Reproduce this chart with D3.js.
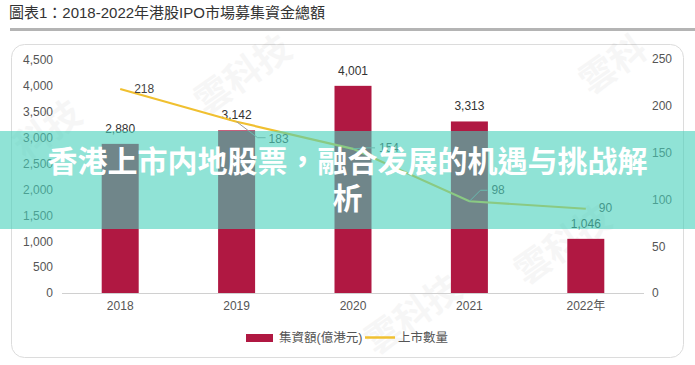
<!DOCTYPE html>
<html>
<head>
<meta charset="utf-8">
<script src="https://cdn.jsdelivr.net/npm/d3@7"></script>
<style>
  body { margin: 0; background: #fff; }
  svg text { font-family: "Liberation Sans", "Noto Sans CJK TC", sans-serif; }
</style>
</head>
<body>
<svg id="chart" width="695" height="365"></svg>
<script>
/* chart values */
const years = ["2018", "2019", "2020", "2021", "2022年"];
const amounts = [2880, 3142, 4001, 3313, 1046];   // 集資額(億港元)
const counts = [218, 183, 154, 98, 90];            // 上市數量
const leftTicks = [0, 500, 1000, 1500, 2000, 2500, 3000, 3500, 4000, 4500];
const rightTicks = [0, 50, 100, 150, 200, 250];

const barColor = "#b01842";
const lineColor = "#f0c030";

let svg = d3.select("#chart");

// title + rule
svg.append("text")
    .attr("x", 9).attr("y", 18)
    .attr("font-size", 15).attr("fill", "#333")
    .text("圖表1：2018-2022年港股IPO市場募集資金總額");
svg.append("rect")
    .attr("x", 10).attr("y", 28).attr("width", 685).attr("height", 3)
    .attr("fill", "#b4b4b4");

// card
svg.append("rect")
    .attr("x", 11.5).attr("y", 44.5).attr("width", 672).attr("height", 313)
    .attr("rx", 13)
    .attr("fill", "none").attr("stroke", "#dcdcdc");

// faint watermarks
const marks = [[250, 85, "雲科技"], [55, 140, "科技"], [620, 75, "雲科"], [570, 255, "雲科技"], [420, 325, "雲科技"]];
marks.forEach(m => {
  svg.append("text")
      .attr("transform", `translate(${m[0]},${m[1]}) rotate(-35)`)
      .attr("text-anchor", "middle")
      .attr("font-size", 36).attr("font-weight", "bold")
      .attr("fill", "#000").attr("opacity", 0.03)
      .text(m[2]);
});

// scales
let x = d3.scaleBand().domain(years).range([62, 644]);
let yL = d3.scaleLinear().domain([0, 4500]).range([293, 60]);
let yR = d3.scaleLinear().domain([0, 250]).range([293, 59]);
const barW = 37;
const cx = d => x(d) + x.bandwidth() / 2;

// baseline
svg.append("line")
    .attr("x1", 62).attr("x2", 644).attr("y1", 293.5).attr("y2", 293.5)
    .attr("stroke", "#d0d0d0");

// left axis
let gl = svg.append("g")
    .attr("transform", "translate(53,0)")
    .call(d3.axisLeft(yL).tickValues(leftTicks).tickSize(0).tickPadding(0)
            .tickFormat(d3.format(",")));
gl.select(".domain").remove();
gl.selectAll("text").attr("font-size", 12).attr("fill", "#555")
    .attr("font-family", "Liberation Sans, sans-serif");

// right axis
let gr = svg.append("g")
    .attr("transform", "translate(652,0)")
    .call(d3.axisRight(yR).tickValues(rightTicks).tickSize(0).tickPadding(0));
gr.select(".domain").remove();
gr.selectAll("text").attr("font-size", 12).attr("fill", "#555")
    .attr("font-family", "Liberation Sans, sans-serif");

// x axis labels
let gx = svg.append("g")
    .attr("transform", "translate(0,301)")
    .call(d3.axisBottom(x).tickSize(0).tickPadding(0));
gx.select(".domain").remove();
gx.selectAll("text").attr("font-size", 12).attr("fill", "#555");

// bars
svg.append("g").selectAll("rect")
    .data(years)
    .join("rect")
      .attr("x", d => cx(d) - barW / 2)
      .attr("y", (d, i) => yL(amounts[i]))
      .attr("width", barW)
      .attr("height", (d, i) => yL(0) - yL(amounts[i]))
      .attr("fill", barColor);

svg.append("g").selectAll("text")
    .data(years)
    .join("text")
      .attr("x", d => cx(d))
      .attr("y", (d, i) => yL(amounts[i]) - 11)
      .attr("text-anchor", "middle")
      .attr("font-size", 12).attr("fill", "#333")
      .text((d, i) => d3.format(",")(amounts[i]));

// line
let line = d3.line()
    .x((d, i) => cx(years[i]))
    .y(d => yR(d));
svg.append("path")
    .attr("d", line(counts))
    .attr("fill", "none")
    .attr("stroke", lineColor)
    .attr("stroke-width", 2.2);

// line labels with leader lines (offsets from the point)
const labelLines = [
  null,
  [[0, 0], [21, 16], [29, 16]],
  [[0, 0], [14, -1], [22, -1]],
  [[0, 0], [11, -11], [18, -11]],
  null
];
const labelPos = [[14, 0], [32, 17], [26, -1], [22, -11], [13, -1]];
counts.forEach((c, i) => {
  let px = cx(years[i]), py = yR(c);
  if (labelLines[i]) {
    svg.append("polyline")
        .attr("points", labelLines[i].map(p => [px + p[0], py + p[1]].join(",")).join(" "))
        .attr("fill", "none").attr("stroke", "#999").attr("stroke-width", 1);
  }
  svg.append("text")
      .attr("x", px + labelPos[i][0])
      .attr("y", py + labelPos[i][1])
      .attr("dy", "0.35em")
      .attr("font-size", 12).attr("fill", "#444")
      .text(c);
});

// legend
svg.append("rect")
    .attr("x", 246).attr("y", 334).attr("width", 27).attr("height", 8)
    .attr("fill", barColor);
svg.append("text")
    .attr("x", 279).attr("y", 338).attr("dy", "0.35em")
    .attr("font-size", 12.5).attr("fill", "#555")
    .text("集資額(億港元)");
svg.append("line")
    .attr("x1", 365).attr("x2", 395).attr("y1", 337.5).attr("y2", 337.5)
    .attr("stroke", lineColor).attr("stroke-width", 2.5);
svg.append("text")
    .attr("x", 398).attr("y", 338).attr("dy", "0.35em")
    .attr("font-size", 12.5).attr("fill", "#555")
    .text("上市數量");

// overlay banner
svg.append("rect")
    .attr("x", 0).attr("y", 131).attr("width", 695).attr("height", 98)
    .attr("fill", "rgb(70,209,186)").attr("opacity", 0.6);
const bannerLines = ["香港上市内地股票，融合发展的机遇与挑战解", "析"];
svg.append("g").selectAll("text")
    .data(bannerLines)
    .join("text")
      .attr("x", 347.5)
      .attr("y", (d, i) => 161 + i * 37)
      .attr("dy", "0.35em")
      .attr("text-anchor", "middle")
      .attr("font-family", "Noto Sans CJK SC, sans-serif")
      .attr("font-weight", "bold")
      .attr("font-size", 30)
      .attr("fill", "#fff")
      .attr("stroke", "rgba(0,0,0,0.05)").attr("stroke-width", 0.5)
      .text(d => d);
</script>
</body>
</html>
